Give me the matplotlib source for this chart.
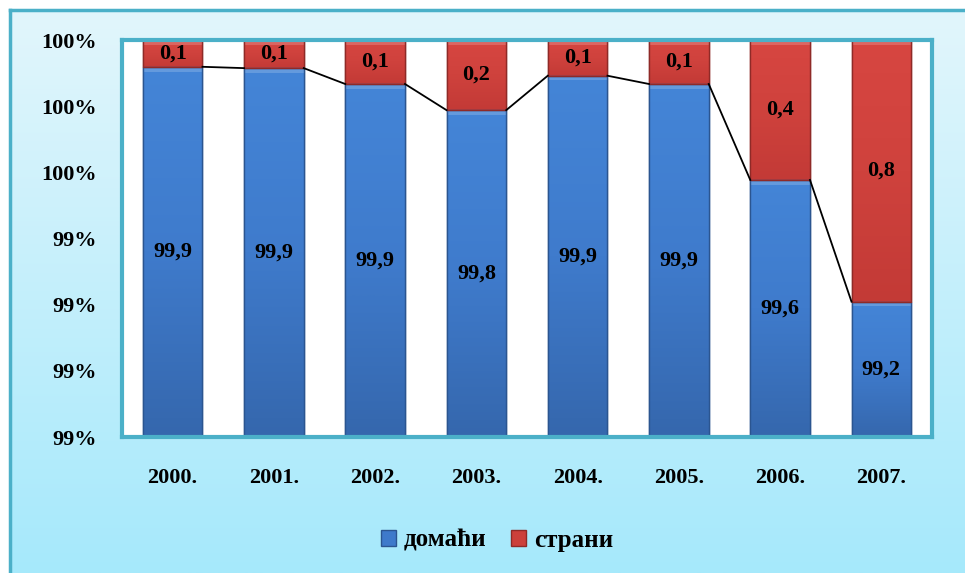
import matplotlib.pyplot as plt
import numpy as np
from matplotlib.colors import LinearSegmentedColormap
from matplotlib.patches import Rectangle

years = ["2000.", "2001.", "2002.", "2003.", "2004.", "2005.", "2006.", "2007."]
domestic = [99.919, 99.915, 99.867, 99.788, 99.892, 99.867, 99.577, 99.209]
domestic_labels = ["99,9", "99,9", "99,9", "99,8", "99,9", "99,9", "99,6", "99,2"]
foreign_labels = ["0,1", "0,1", "0,1", "0,2", "0,1", "0,1", "0,4", "0,8"]
yticks = [98.8, 99.0, 99.2, 99.4, 99.6, 99.8, 100.0]
ytick_labels = ["99%", "99%", "99%", "99%", "100%", "100%", "100%"]

foreign = [100 - d for d in domestic]

plt.rcParams["font.family"] = ["Liberation Serif", "DejaVu Serif"]
plt.rcParams["font.weight"] = "bold"

blue = "#3e7acb"
blue_edge = "#2b5590"
red = "#cc403b"
red_edge = "#8f2a27"
frame = "#4bb0c8"
blue_cmap = LinearSegmentedColormap.from_list("b", ["#4485d7", "#3f7bcc", "#3567ad"])
red_cmap = LinearSegmentedColormap.from_list("r", ["#d74641", "#cf423d", "#c33a36"])

fig = plt.figure(figsize=(9.65, 5.73), dpi=100)

# background gradient
bg = fig.add_axes([0, 0, 1, 1], zorder=-10)
grad = np.linspace(0, 1, 256).reshape(-1, 1)
top_c = np.array([0xe3, 0xf6, 0xfc]) / 255
bot_c = np.array([0xa6, 0xe9, 0xfb]) / 255
img = top_c[None, None, :] * (1 - grad[:, :, None]) + bot_c[None, None, :] * grad[:, :, None]
bg.imshow(img, aspect="auto", extent=[0, 1, 0, 1], origin="upper")
bg.set_xlim(0, 1)
bg.set_ylim(0, 1)
bg.add_patch(Rectangle((0, 0), 10 / 965, 1, color="white", lw=0))
bg.add_patch(Rectangle((0, 1 - 10 / 573), 1, 10 / 573, color="white", lw=0))
bg.plot([10 / 965, 10 / 965], [0, 1 - 10 / 573], color=frame, lw=2.5)
bg.plot([10 / 965, 1], [1 - 10 / 573, 1 - 10 / 573], color=frame, lw=2.5)
bg.axis("off")

ax = fig.add_axes([122 / 965, 1 - 437 / 573, 810 / 965, 397 / 573])
ax.set_facecolor("white")
x = np.arange(len(years))
width = 0.59
ymin, ymax = 98.8, 100.0

b1 = ax.bar(x, domestic, width, bottom=0, color=blue, edgecolor=blue_edge,
            linewidth=1.0, label="домаћи", zorder=2)
b2 = ax.bar(x, foreign, width, bottom=domestic, color=red, edgecolor=red_edge,
            linewidth=1.0, label="страни", zorder=2)

# vertical gradient fill clipped to each bar
vgrad = np.linspace(0, 1, 600).reshape(-1, 1)
for bars, cmap, edge, tops, bottoms in [(b1, blue_cmap, blue_edge, domestic, [ymin] * len(x)),
                                        (b2, red_cmap, red_edge, [ymax] * len(x), domestic)]:
    for i, p in enumerate(bars):
        im = ax.imshow(vgrad, cmap=cmap, aspect="auto", origin="upper",
                       extent=[x[i] - width / 2, x[i] + width / 2, bottoms[i], tops[i]],
                       zorder=2.1, interpolation="bilinear")
        im.set_clip_path(p)
        # light bevel strip on top of segment
        h = (ymax - ymin) * 0.012
        ax.fill_between([x[i] - width / 2, x[i] + width / 2], tops[i] - h, tops[i],
                        color="white", alpha=0.18, lw=0, zorder=2.2)
        ax.add_patch(Rectangle((x[i] - width / 2, bottoms[i]), width, tops[i] - bottoms[i],
                               fill=False, edgecolor=edge, lw=1.0, zorder=2.3))

# series lines between bar tops
for i in range(len(x) - 1):
    ax.plot([x[i] + width / 2, x[i + 1] - width / 2], [domestic[i], domestic[i + 1]],
            color="black", lw=1.3, zorder=3)
    ax.plot([x[i] + width / 2, x[i + 1] - width / 2], [ymax, ymax],
            color="black", lw=1.3, zorder=3)

for i in range(len(x)):
    ax.text(x[i], (ymin + domestic[i]) / 2, domestic_labels[i], ha="center",
            va="center", fontsize=16, fontweight="bold", zorder=4)
    ax.text(x[i], (domestic[i] + ymax) / 2, foreign_labels[i], ha="center",
            va="center", fontsize=16, fontweight="bold", zorder=4)

ax.set_ylim(ymin, ymax)
ax.set_xlim(-0.5, len(x) - 0.5)
ax.set_yticks(yticks)
ax.set_yticklabels(ytick_labels, fontsize=16, fontweight="bold")
ax.set_xticks(x)
ax.set_xticklabels(years, fontsize=16, fontweight="bold")
ax.tick_params(axis="y", length=0, pad=18)
ax.tick_params(axis="x", length=0, pad=22)
for s in ax.spines.values():
    s.set_color(frame)
    s.set_linewidth(3)
    s.set_zorder(5)

handles, labels = ax.get_legend_handles_labels()
leg = fig.legend(handles, labels, loc="center", bbox_to_anchor=(497 / 965, 1 - 540 / 573),
                 ncol=2, frameon=False, prop={"size": 18, "weight": "bold"},
                 handlelength=0.6, handleheight=0.6, handletextpad=0.3, columnspacing=1.0)

fig.savefig("out.png", dpi=100)
